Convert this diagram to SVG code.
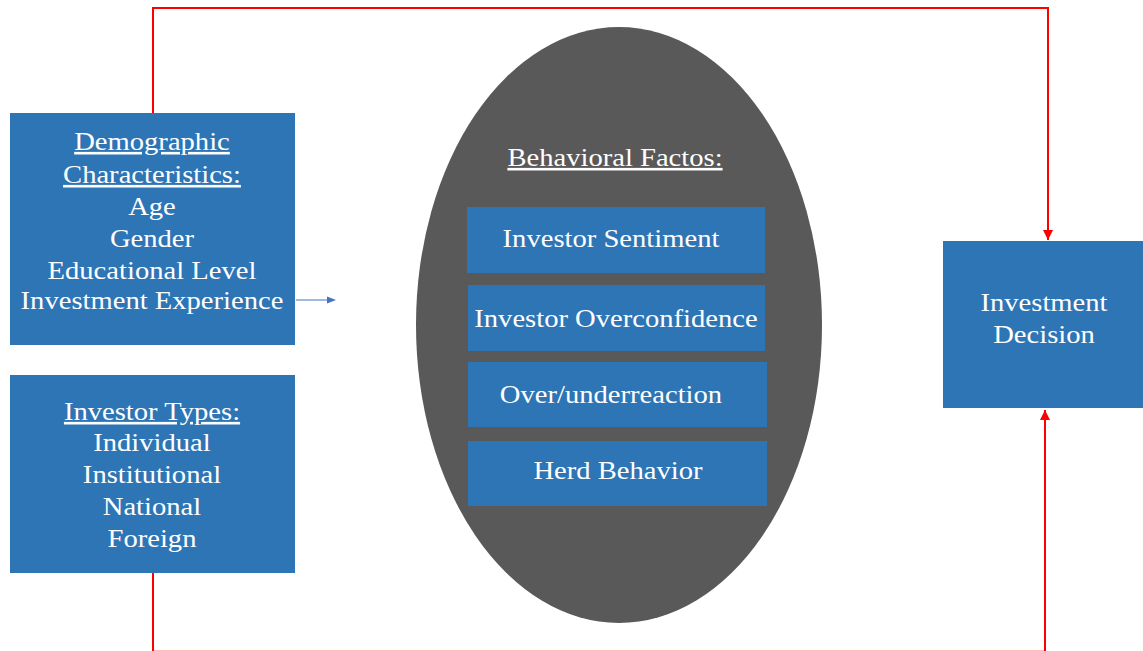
<svg xmlns="http://www.w3.org/2000/svg" width="1143" height="651" viewBox="0 0 1143 651">
  <style>
    .box { fill: #2E75B6; }
    .oval { fill: #595959; }
    .t { font-family: "Liberation Serif", "Times New Roman", serif; font-size: 26px; fill: #ffffff; text-anchor: middle;
         transform-box: fill-box; transform-origin: center; transform: scaleX(1.1); }
    .u { text-decoration: underline; }
    .red { fill: none; stroke: #FF0000; stroke-width: 2; }
    .blue { fill: none; stroke: #4472C4; stroke-width: 1; }
  </style>
  <defs>
    <marker id="arrRed" viewBox="0 0 10 10" refX="10" refY="5" markerWidth="5" markerHeight="5" orient="auto" markerUnits="strokeWidth">
      <path d="M0,0 L10,5 L0,10 Z" fill="#FF0000"/>
    </marker>
  </defs>

  <rect width="1143" height="651" fill="#ffffff"/>

  <!-- connectors -->
  <g id="connectors">
    <path class="red" d="M153,113 V8 H1048 V240" marker-end="url(#arrRed)"/>
    <path class="red" d="M153,573 V651.8 H1045 V410" marker-end="url(#arrRed)"/>
    <path class="blue" d="M296,300 H328"/>
    <path d="M327,296.5 L336,300 L327,303.5 Z" fill="#4472C4"/>
  </g>

  <g id="demographic">
    <rect class="box" x="10" y="113" width="285" height="232"/>
    <text class="t u" x="152" y="150">Demographic</text>
    <text class="t u" x="152" y="183">Characteristics:</text>
    <text class="t" x="152" y="215">Age</text>
    <text class="t" x="152" y="247">Gender</text>
    <text class="t" x="152" y="279">Educational Level</text>
    <text class="t" x="152" y="309">Investment Experience</text>
  </g>

  <g id="investor-types">
    <rect class="box" x="10" y="375" width="285" height="198"/>
    <text class="t u" x="152" y="420">Investor Types:</text>
    <text class="t" x="152" y="451">Individual</text>
    <text class="t" x="152" y="483">Institutional</text>
    <text class="t" x="152" y="515">National</text>
    <text class="t" x="152" y="547">Foreign</text>
  </g>

  <g id="behavioral-factors">
    <ellipse class="oval" cx="619" cy="325" rx="203" ry="298"/>
    <text class="t u" x="615" y="166">Behavioral Factos:</text>
  </g>

  <g id="investor-sentiment">
    <rect class="box" x="467" y="207" width="298" height="66"/>
    <text class="t" x="611" y="247">Investor Sentiment</text>
  </g>

  <g id="investor-overconfidence">
    <rect class="box" x="468" y="285" width="297" height="66"/>
    <text class="t" x="616" y="327">Investor Overconfidence</text>
  </g>

  <g id="over-underreaction">
    <rect class="box" x="468" y="362" width="299" height="65"/>
    <text class="t" x="611" y="403">Over/underreaction</text>
  </g>

  <g id="herd-behavior">
    <rect class="box" x="468" y="441" width="299" height="65"/>
    <text class="t" x="618" y="479">Herd Behavior</text>
  </g>

  <g id="investment-decision">
    <rect class="box" x="943" y="241" width="200" height="167"/>
    <text class="t" x="1044" y="311">Investment</text>
    <text class="t" x="1044" y="343">Decision</text>
  </g>
</svg>
